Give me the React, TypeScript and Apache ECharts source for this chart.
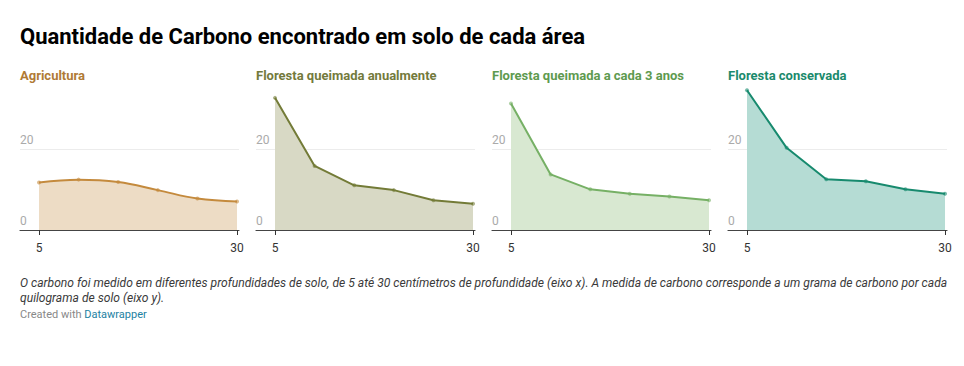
import React, { useEffect, useRef } from "react";
import * as echarts from "echarts";

const depths = [5, 10, 15, 20, 25, 30];
const panelTitles = [
  "Agricultura",
  "Floresta queimada anualmente",
  "Floresta queimada a cada 3 anos",
  "Floresta conservada",
];
const agricultura = [11.8, 12.5, 11.9, 9.9, 7.8, 7.1];
const queimadaAnual = [32.8, 15.9, 11.1, 9.9, 7.4, 6.5];
const queimada3Anos = [31.4, 13.8, 10.1, 9.0, 8.3, 7.4];
const conservada = [34.7, 20.4, 12.6, 12.1, 10.1, 9.0];
const xTickValues = [5, 30];
const yTickValues = [0, 20];

const mainTitle = "Quantidade de Carbono encontrado em solo de cada área";
const noteText =
  "O carbono foi medido em diferentes profundidades de solo, de 5 até 30 centímetros de profundidade (eixo x). A medida de carbono corresponde a um grama de carbono por cada\nquilograma de solo (eixo y).";

const seriesValues = [agricultura, queimadaAnual, queimada3Anos, conservada];
const titleColors = ["#b07a35", "#737a3c", "#5e9a4f", "#1b8a6c"];
const lineColors = ["#c48a3d", "#737b37", "#76b065", "#178a6e"];
const fillColors = ["#eddcc5", "#d8d9c5", "#d8e8d1", "#b5dcd4"];
const smoothFlags = [true, false, false, false];

export default function App() {
  const ref = useRef<HTMLDivElement>(null);
  useEffect(() => {
    document.body.style.margin = "0";
    const chart = echarts.init(ref.current!, undefined, { renderer: "svg" });
    const font = "Roboto, 'Noto Sans', sans-serif";
    const grids: any[] = [];
    const xAxes: any[] = [];
    const yAxes: any[] = [];
    const series: any[] = [];
    const titles: any[] = [
      {
        text: mainTitle,
        left: 20,
        top: 23,
        padding: 0,
        textStyle: { fontFamily: font, fontSize: 22, fontWeight: "bold", color: "#000", lineHeight: 26 },
      },
      {
        text: noteText,
        left: 20,
        top: 275,
        padding: 0,
        textStyle: { fontFamily: font, fontSize: 12.1, fontStyle: "italic", fontWeight: "normal", color: "#3a3a3a", lineHeight: 15 },
      },
      {
        text: "Created with {b|Datawrapper}",
        left: 20,
        top: 307,
        padding: 0,
        textStyle: {
          fontFamily: font,
          fontSize: 11,
          fontWeight: "normal",
          color: "#888",
          lineHeight: 15,
          rich: { b: { color: "#1d81a2", fontFamily: font, fontSize: 11 } },
        },
      },
    ];
    for (let i = 0; i < 4; i++) {
      const left = 20 + 236 * i;
      titles.push({
        text: panelTitles[i],
        left: left,
        top: 67,
        padding: 0,
        textStyle: { fontFamily: font, fontSize: 13, fontWeight: "bold", color: titleColors[i], lineHeight: 16 },
      });
      grids.push({ left: left, top: 89, width: 219, height: 141 });
      xAxes.push({
        gridIndex: i,
        type: "value",
        min: 2.6,
        max: 30.25,
        axisLine: { show: true, lineStyle: { color: "#444", width: 1.2 } },
        axisTick: { show: true, customValues: xTickValues, length: 5, lineStyle: { color: "#333" } },
        axisLabel: { customValues: xTickValues, color: "#333", fontFamily: font, fontSize: 12, margin: 12 },
        splitLine: { show: false },
      });
      yAxes.push({
        gridIndex: i,
        type: "value",
        min: 0,
        max: 35,
        interval: 20,
        axisLine: { show: false },
        axisTick: { show: false },
        axisLabel: {
          customValues: yTickValues,
          inside: true,
          margin: 0,
          verticalAlign: "bottom",
          padding: [0, 0, 3, 0],
          color: "#aaa",
          fontFamily: font,
          fontSize: 12,
        },
        splitLine: { show: true, lineStyle: { color: ["transparent", "#ececec", "transparent"], width: 1 } },
      });
      series.push({
        type: "line",
        xAxisIndex: i,
        yAxisIndex: i,
        data: depths.map((d, j) => [d, seriesValues[i][j]]),
        smooth: smoothFlags[i] ? 0.4 : false,
        symbol: "circle",
        symbolSize: 4,
        showSymbol: true,
        lineStyle: { color: lineColors[i], width: 2 },
        itemStyle: { color: lineColors[i], opacity: 0.6 },
        areaStyle: { color: fillColors[i], opacity: 1 },
      });
    }
    chart.setOption({
      animation: false,
      backgroundColor: "#fff",
      title: titles,
      grid: grids,
      xAxis: xAxes,
      yAxis: yAxes,
      series: series,
    });
    return () => chart.dispose();
  }, []);
  return <div ref={ref} style={{ width: 964, height: 366 }} />;
}
